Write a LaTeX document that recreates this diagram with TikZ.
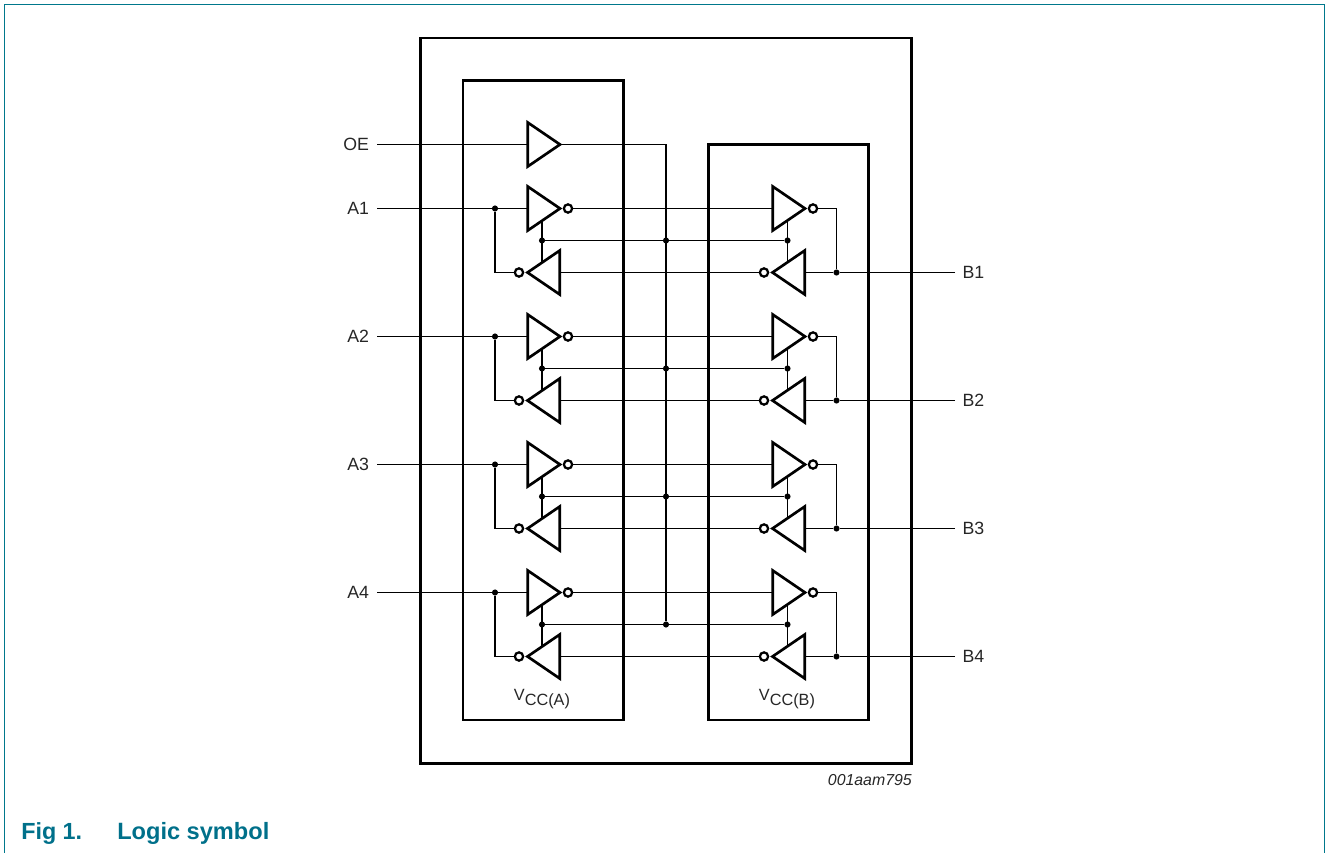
\documentclass[tikz,border=0pt]{standalone}
\usepackage{fontspec}
\setmainfont{Liberation Sans}
\usetikzlibrary{shapes.geometric,backgrounds}
\definecolor{frameteal}{RGB}{0,120,140}
\definecolor{titleteal}{RGB}{0,112,138}
\tikzset{
  thin line/.style={line width=1.1pt,black},
  gatebox/.style={draw,line width=2pt,rectangle,inner sep=0pt,outer sep=0pt},
  buffer/.style={draw,fill=white,line width=2pt,isosceles triangle,isosceles triangle stretches,
    minimum width=33pt,minimum height=24.2pt,inner sep=0pt,outer sep=0pt,anchor=apex},
  bufferR/.style={buffer,shape border rotate=0},
  bufferL/.style={buffer,shape border rotate=180},
  bubble/.style={draw,fill=white,circle,line width=1.7pt,minimum size=6.2pt,inner sep=0pt,outer sep=0pt},
  junction/.style={circle,fill=black,minimum size=4.6pt,inner sep=0pt,outer sep=0pt},
  pin/.style={inner sep=0pt,outer sep=0pt,font=\fontsize{13.3pt}{15pt}\selectfont,text=black!85},
  supply/.style={inner sep=0pt,outer sep=0pt,font=\fontsize{12.2pt}{14pt}\selectfont,text=black!85},
}
\begin{document}
\begin{tikzpicture}[x=0.75pt,y=-0.75pt]
\useasboundingbox (0,0) rectangle (1325,853);
% page frame
\coordinate (fBL) at (4.5,853);
\coordinate (fTL) at (4.5,4.6);
\coordinate (fTR) at (1324.3,4.6);
\coordinate (fBR) at (1324.3,853);
\draw[frameteal,line width=1pt] (fBL) -- (fTL) -- (fTR) -- (fBR);
% boxes
\node[gatebox,minimum width=368.25pt,minimum height=544.1pt] (outer) at (666,400.75) {};
\node[gatebox,minimum width=120.4pt,minimum height=479.6pt] (boxA) at (543.3,400.25) {};
\node[gatebox,minimum width=120pt,minimum height=431.6pt] (boxB) at (788.6,432.25) {};
% OE
\node[pin,anchor=base east] (OE) at (369,150.5) {OE};
\coordinate (OEend) at (377,144.5);
\node[bufferR] (OEbuf) at (560,144.5) {};
\coordinate (busTop) at (666,144.5);
\begin{scope}[on background layer]
\draw[thin line] (OEend) -- (OEbuf.lower side);
\end{scope}
% rows
\foreach \i/\yu/\yc/\yl in {1/208.5/240.5/272.5,2/336.5/368.5/400.5,3/464.5/496.5/528.5,4/592.5/624.5/656.5}{
  \node[pin,anchor=base east] (A\i) at (369,\yu+6) {A\i};
  \node[pin,anchor=base west] (B\i) at (962.5,\yl+6) {B\i};
  \coordinate (A\i end) at (377,\yu);
  \coordinate (B\i end) at (955,\yl);
  \node[bufferR] (AU\i) at (560,\yu) {};
  \node[bufferL] (AL\i) at (527.5,\yl) {};
  \node[bufferR] (BU\i) at (805,\yu) {};
  \node[bufferL] (BL\i) at (772.5,\yl) {};
  \node[bubble] (AUb\i) at (568,\yu) {};
  \node[bubble] (ALb\i) at (519,\yl) {};
  \node[bubble] (BUb\i) at (813,\yu) {};
  \node[bubble] (BLb\i) at (764,\yl) {};
  \node[junction] (dA\i) at (495,\yu) {};
  \node[junction] (dB\i) at (836.5,\yl) {};
  \node[junction] (cA\i) at (542,\yc) {};
  \node[junction] (cM\i) at (666,\yc) {};
  \node[junction] (cB\i) at (787.5,\yc) {};
  \begin{scope}[on background layer]
    \draw[thin line] (A\i end) -- (dA\i) -- (AU\i.lower side);
    \draw[thin line] (dA\i) |- (ALb\i);
    \draw[thin line] (AUb\i) -- (BU\i.lower side);
    \draw[thin line] (BUb\i) -| (dB\i);
    \draw[thin line] (BLb\i) -- (AL\i.lower side);
    \draw[thin line] (B\i end) -- (dB\i) -- (BL\i.lower side);
    \draw[thin line] (cA\i) -- (cB\i);
    \draw[thin line] (cA\i |- AU\i.east) -- (cA\i |- AL\i.west);
    \draw[thin line] (cB\i |- BU\i.east) -- (cB\i |- BL\i.west);
  \end{scope}
}
\begin{scope}[on background layer]
\draw[thin line] (OEbuf.apex) -- (busTop) -- (cM4);
\end{scope}
% supply labels
\node[supply,anchor=base] (VA) at (542,700) {V\raisebox{-3.9pt}{CC(A)}};
\node[supply,anchor=base] (VB) at (787,700) {V\raisebox{-3.9pt}{CC(B)}};
% code and caption
\node[anchor=base east,inner sep=0pt,font=\fontsize{11.9pt}{14pt}\selectfont\itshape,text=black!85] (code) at (912,785.5) {001aam795};
\node[anchor=base west,inner sep=0pt,font=\fontsize{17.5pt}{20pt}\selectfont\bfseries,text=titleteal] (figno) at (21,839) {Fig 1.};
\node[anchor=base west,inner sep=0pt,font=\fontsize{17.7pt}{20pt}\selectfont\bfseries,text=titleteal] (figtitle) at (117,839) {Logic symbol};
\end{tikzpicture}
\end{document}
